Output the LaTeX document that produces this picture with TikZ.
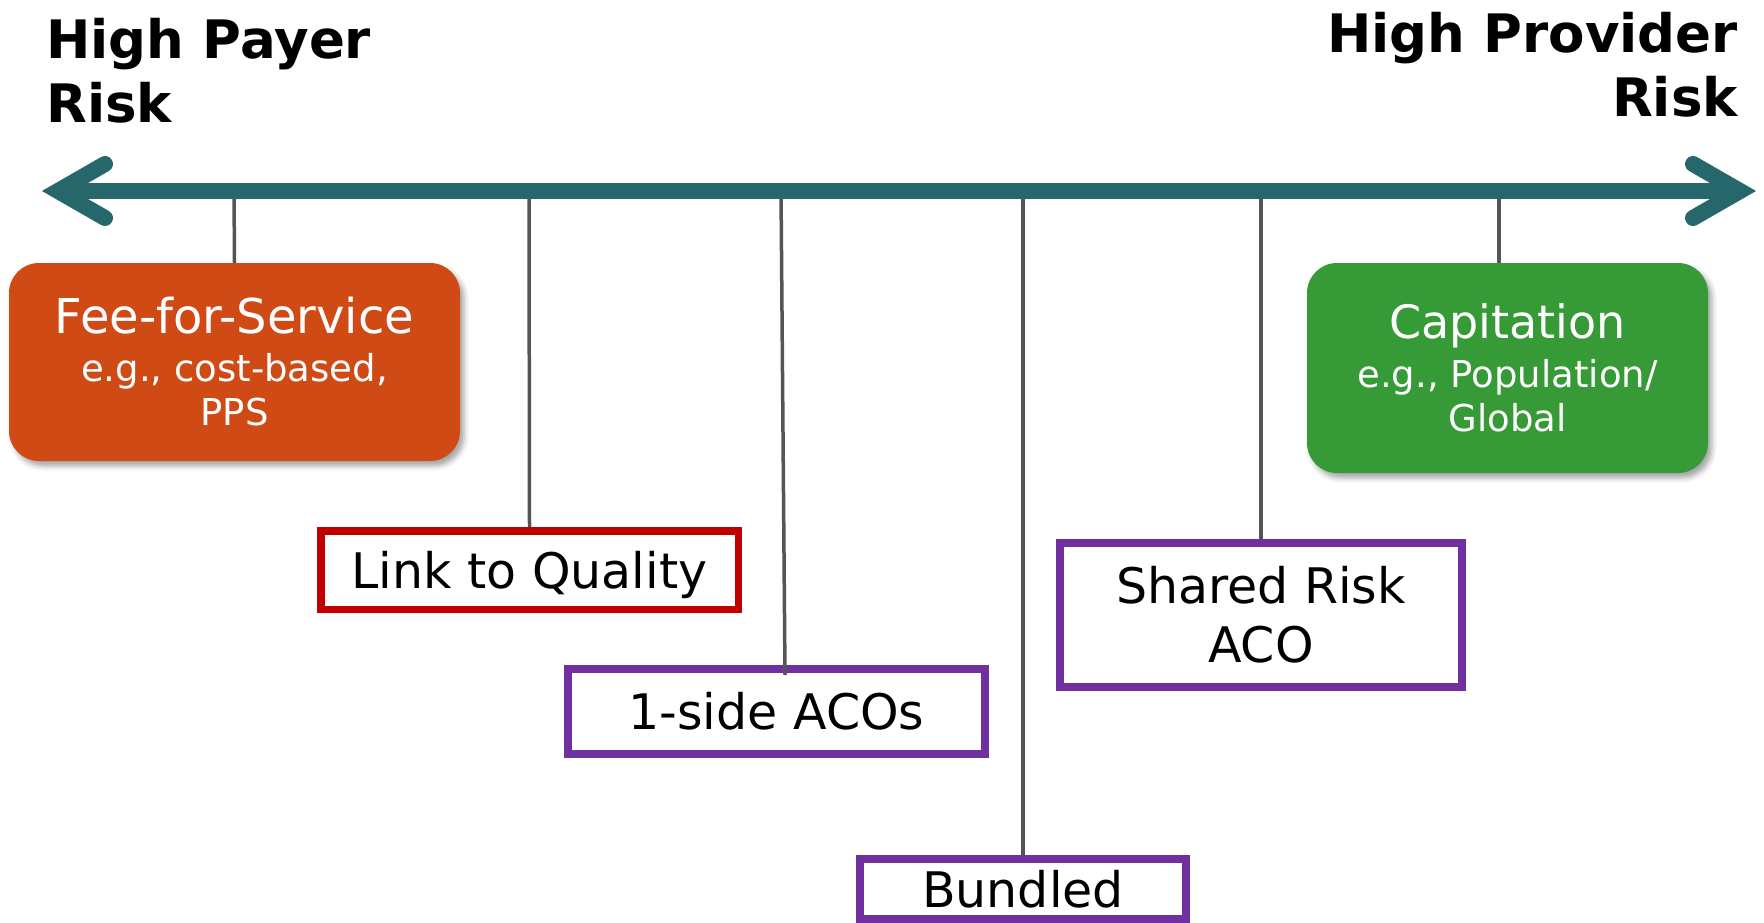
\documentclass[tikz,border=0pt]{standalone}
\usepackage{fontspec}
\setmainfont{DejaVu Sans}
\usetikzlibrary{shadows.blur}
\definecolor{axisteal}{HTML}{26676B}
\definecolor{ffsorange}{HTML}{D04A16}
\definecolor{capgreen}{HTML}{369A36}
\definecolor{linkred}{HTML}{C00000}
\definecolor{acopurple}{HTML}{7030A0}
\definecolor{tickgray}{HTML}{555555}
\newcommand{\riskline}[2]{\draw[tickline] (#1) -- (#2);}
\newcommand{\egsize}{\fontsize{37}{44}\selectfont}

\begin{document}
\begin{tikzpicture}[x=1pt, y=-1pt,
    tickline/.style={draw=tickgray, line width=3.5pt},
    axisline/.style={draw=axisteal, line width=16pt},
    modelbox/.style={rounded corners=30pt, inner sep=0pt, text=white, align=center,
        font=\egsize, blur shadow={shadow xshift=4pt, shadow yshift=-5pt,
        shadow blur radius=5pt, shadow opacity=35}},
    optionbox/.style={draw, line width=7.5pt, fill=white, inner sep=0pt, align=center,
        font=\fontsize{49}{59}\selectfont},
    oneline/.style={text height=36pt, text depth=0pt},
    riskhead/.style={inner sep=0pt, font=\fontsize{53}{64}\selectfont\bfseries}]
    \useasboundingbox (0,0) rectangle (1764,923);
    % headings
    \node[riskhead, anchor=north west, align=left] (payer) at (46,18) {High Payer\\Risk};
    \node[riskhead, anchor=north east, align=right] (provider) at (1738,12) {High Provider\\Risk};
    % payment models
    \node[modelbox, fill=ffsorange, minimum width=451pt, minimum height=198pt] (ffs) at (234.5,362)
        {{\fontsize{48}{44}\selectfont Fee-for-Service}\\[4pt]\egsize e.g., cost-based,\\\egsize PPS};
    \node[modelbox, fill=capgreen, minimum width=401pt, minimum height=210pt] (cap) at (1507.5,368)
        {{\fontsize{46}{46}\selectfont Capitation}\\[5pt]\egsize e.g., Population/\\\egsize Global};
    \node[optionbox, oneline, draw=linkred, minimum width=417.5pt, minimum height=78.5pt] (link) at (529.5,570)
        {Link to Quality};
    \node[optionbox, oneline, draw=acopurple, line width=8pt, minimum width=417pt, minimum height=85pt] (oneside) at (776.5,711.5)
        {1-side ACOs};
    \node[optionbox, oneline, draw=acopurple, line width=8pt, minimum width=326pt, minimum height=60pt] (bundled) at (1023,889)
        {Bundled};
    \node[optionbox, draw=acopurple, line width=8pt, minimum width=402pt, minimum height=144pt] (shared) at (1261,615)
        {Shared Risk\\ACO};
    % ticks on the axis
    \coordinate (tffs) at (234,191);
    \coordinate (tlink) at (529,191);
    \coordinate (tone) at (781,191);
    \coordinate (tbund) at (1023,191);
    \coordinate (tshare) at (1261,191);
    \coordinate (tcap) at (1499,191);
    \coordinate (tonefoot) at (785,675);
    \riskline{tffs}{ffs.north}
    \riskline{tlink}{link.north}
    \riskline{tone}{tonefoot}
    \riskline{tbund}{bundled.north}
    \riskline{tshare}{shared.north}
    \riskline{tcap}{tcap |- cap.north}
    % risk axis
    \coordinate (lend) at (58,191);
    \coordinate (rend) at (1740,191);
    \draw[axisline] (lend) -- (rend);
    \draw[axisline, line cap=round] (lend) ++(47,-27) -- (lend) -- ++(47,27);
    \draw[axisline, line cap=round] (rend) ++(-47,-27) -- (rend) -- ++(-47,27);
\end{tikzpicture}
\end{document}
